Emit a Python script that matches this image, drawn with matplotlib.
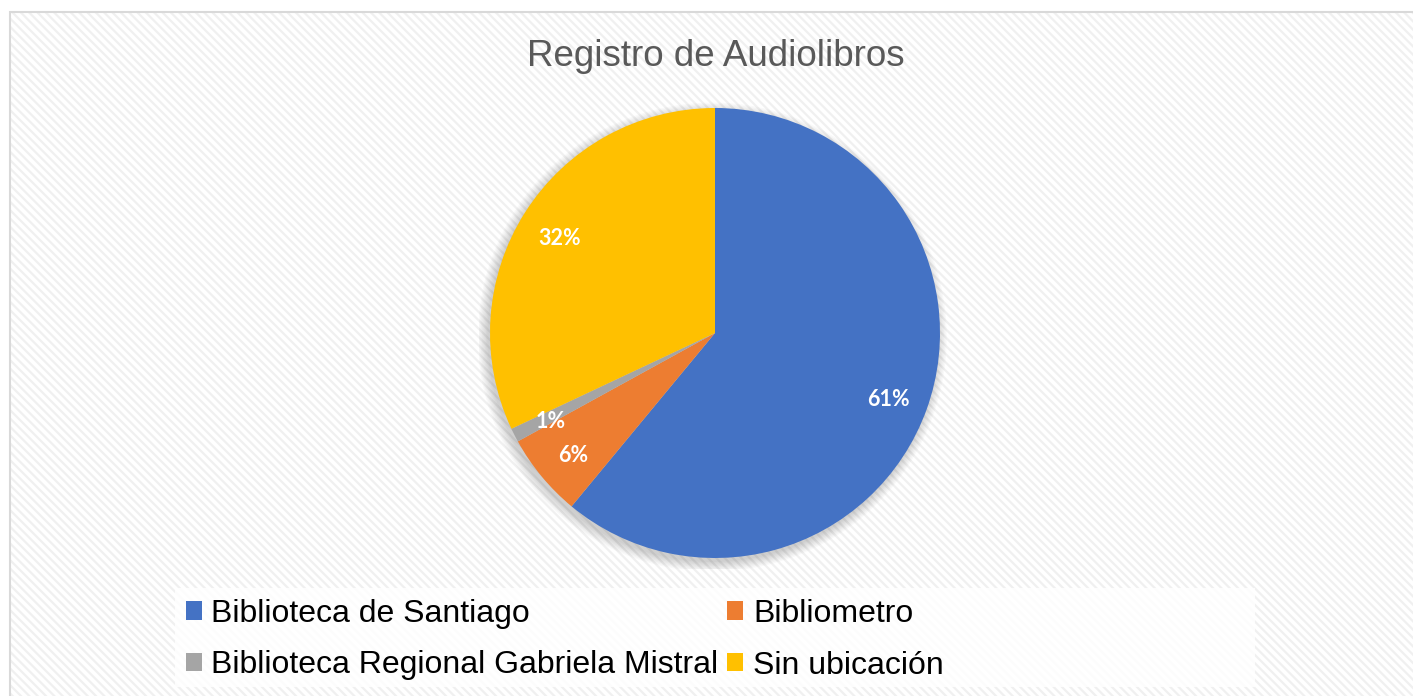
import matplotlib
matplotlib.use("Agg")
import matplotlib.pyplot as plt
from matplotlib.patches import Rectangle, Patch, Circle

titulo = u"Registro de Audiolibros"
categorias = [u"Biblioteca de Santiago", u"Bibliometro",
              u"Biblioteca Regional Gabriela Mistral", u"Sin ubicación"]
porcentajes = [61, 6, 1, 32]
colores = ["#4472c4", "#ed7d31", "#a5a5a5", "#ffc000"]

W, H = 1413, 696
plt.rcParams['hatch.linewidth'] = 1.6
fig = plt.figure(figsize=(W / 100, H / 100), dpi=100)
fig.patch.set_facecolor("white")

# fondo rayado y borde
fondo = Rectangle((10 / W, 0), 1, 1 - 12 / H, transform=fig.transFigure,
                  facecolor="white", edgecolor="#f0f0f0", hatch="\\\\\\\\",
                  linewidth=0, zorder=-3)
borde = Rectangle((10 / W, -0.01), 1, 1 - 12 / H + 0.01, transform=fig.transFigure,
                  fill=False, edgecolor="#d9d9d9", linewidth=1.5, zorder=-2)
caja = Rectangle((175 / W, 1 - 687 / H), 1080 / W, 99 / H, transform=fig.transFigure,
                 facecolor="white", edgecolor="none", alpha=0.85, zorder=-1)
fig.patches.extend([fondo, borde, caja])

# pastel
cx, cy, r = 715, 333, 225
ax = fig.add_axes([(cx - r) / W, (H - cy - r) / H, 2 * r / W, 2 * r / H])
ax.set_facecolor("none")

# sombra suave
for k in range(8):
    ax.add_patch(Circle((-0.012, -0.018), 1.0 + 0.006 * k, facecolor="black",
                        edgecolor="none", alpha=0.025, zorder=0))

wedges, _, autotexts = ax.pie(porcentajes, colors=colores, startangle=90,
                              counterclock=False, autopct="%.0f%%",
                              pctdistance=0.82, radius=1,
                              wedgeprops=dict(linewidth=0, zorder=2),
                              textprops=dict(color="white", fontsize=15.5,
                                             fontweight="bold", family="Lato"))
for t in autotexts:
    t.set_zorder(3)
    x, y = t.get_position()
    t.set_position((x, y - 0.02))
ax.set_xlim(-1.05, 1.05)
ax.set_ylim(-1.05, 1.05)
ax.set_aspect("equal")
ax.axis("off")
ax.set_position([(cx - r * 1.05) / W, (H - cy - r * 1.05) / H, 2.1 * r / W, 2.1 * r / H])

fig.text(716 / W, 1 - 57 / H, titulo, ha="center", va="center",
         fontsize=26.5, color="#595959", family="Liberation Sans")

# leyenda (filas: Santiago/Bibliometro, Regional/Sin ubicación)
orden = [0, 2, 1, 3]
handles = [Patch(facecolor=colores[i], edgecolor="none") for i in orden]
etiquetas = [categorias[i] for i in orden]
leg = fig.legend(handles, etiquetas, loc="upper left",
                 bbox_to_anchor=(173 / W, 1 - 586 / H), ncol=2, frameon=False,
                 prop=dict(family="Liberation Sans", size=23),
                 handlelength=0.5, handleheight=0.5, handletextpad=0.3,
                 columnspacing=0.28, labelspacing=0.68, borderaxespad=0)

fig.savefig("out.png", dpi=100)
